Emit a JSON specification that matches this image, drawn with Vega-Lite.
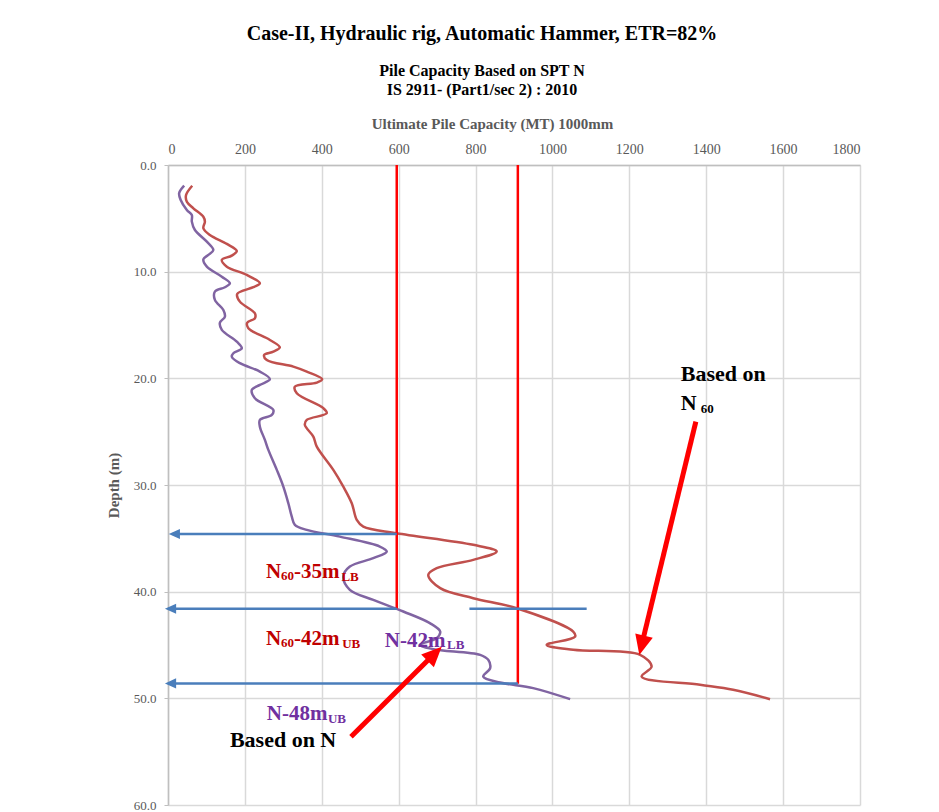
{
  "$schema": "https://vega.github.io/schema/vega-lite/v6.json",
  "width": 692,
  "height": 640,
  "autosize": {"type": "none"},
  "padding": {"left": 168, "top": 165, "right": 79, "bottom": 7},
  "background": "white",
  "config": {
    "font": "Liberation Serif",
    "view": {"stroke": null},
    "axis": {"gridColor": "#d9d9d9", "gridWidth": 1.5, "domainColor": "#bfbfbf", "domainWidth": 1.5, "labelColor": "#595959", "titleColor": "#595959", "labelFont": "Liberation Serif", "titleFont": "Liberation Serif"}
  },
  "title": {
    "text": "Case-II, Hydraulic  rig, Automatic Hammer, ETR=82%",
    "subtitle": ["Pile Capacity Based on SPT N", "IS 2911- (Part1/sec 2) : 2010"],
    "anchor": "middle",
    "dx": -32,
    "font": "Liberation Serif",
    "fontSize": 20,
    "fontWeight": "bold",
    "color": "black",
    "subtitleFont": "Liberation Serif",
    "subtitleFontSize": 16,
    "subtitleFontWeight": "bold",
    "subtitleColor": "black",
    "subtitleLineHeight": 19,
    "subtitlePadding": 19,
    "offset": 18
  },
  "datasets": {
    "curves": [
      {"series": "N60", "cap": 63, "depth": 1.94},
      {"series": "N60", "cap": 47, "depth": 2.81},
      {"series": "N60", "cap": 49, "depth": 3.44},
      {"series": "N60", "cap": 66, "depth": 4.06},
      {"series": "N60", "cap": 92, "depth": 4.85},
      {"series": "N60", "cap": 96, "depth": 5.31},
      {"series": "N60", "cap": 92, "depth": 5.93},
      {"series": "N60", "cap": 109, "depth": 6.56},
      {"series": "N60", "cap": 153, "depth": 7.4},
      {"series": "N60", "cap": 179, "depth": 8.06},
      {"series": "N60", "cap": 166, "depth": 8.5},
      {"series": "N60", "cap": 140, "depth": 8.9},
      {"series": "N60", "cap": 153, "depth": 9.53},
      {"series": "N60", "cap": 205, "depth": 10.31},
      {"series": "N60", "cap": 239, "depth": 11.09},
      {"series": "N60", "cap": 222, "depth": 11.46},
      {"series": "N60", "cap": 180, "depth": 12.09},
      {"series": "N60", "cap": 187, "depth": 12.81},
      {"series": "N60", "cap": 226, "depth": 13.9},
      {"series": "N60", "cap": 226, "depth": 14.37},
      {"series": "N60", "cap": 206, "depth": 14.78},
      {"series": "N60", "cap": 209, "depth": 15.3},
      {"series": "N60", "cap": 265, "depth": 16.4},
      {"series": "N60", "cap": 291, "depth": 17.09},
      {"series": "N60", "cap": 274, "depth": 17.5},
      {"series": "N60", "cap": 250, "depth": 17.81},
      {"series": "N60", "cap": 257, "depth": 18.28},
      {"series": "N60", "cap": 326, "depth": 18.9},
      {"series": "N60", "cap": 361, "depth": 19.37},
      {"series": "N60", "cap": 401, "depth": 20.08},
      {"series": "N60", "cap": 387, "depth": 20.4},
      {"series": "N60", "cap": 330, "depth": 20.78},
      {"series": "N60", "cap": 335, "depth": 21.4},
      {"series": "N60", "cap": 404, "depth": 22.8},
      {"series": "N60", "cap": 413, "depth": 23.27},
      {"series": "N60", "cap": 361, "depth": 23.9},
      {"series": "N60", "cap": 356, "depth": 24.37},
      {"series": "N60", "cap": 378, "depth": 25.46},
      {"series": "N60", "cap": 387, "depth": 26.4},
      {"series": "N60", "cap": 430, "depth": 28.58},
      {"series": "N60", "cap": 456, "depth": 30.15},
      {"series": "N60", "cap": 478, "depth": 31.71},
      {"series": "N60", "cap": 491, "depth": 33.27},
      {"series": "N60", "cap": 508, "depth": 33.9},
      {"series": "N60", "cap": 595, "depth": 34.52},
      {"series": "N60", "cap": 794, "depth": 35.61},
      {"series": "N60", "cap": 855, "depth": 36.24},
      {"series": "N60", "cap": 794, "depth": 37.02},
      {"series": "N60", "cap": 699, "depth": 37.8},
      {"series": "N60", "cap": 677, "depth": 38.43},
      {"series": "N60", "cap": 708, "depth": 39.67},
      {"series": "N60", "cap": 794, "depth": 40.61},
      {"series": "N60", "cap": 907, "depth": 41.55},
      {"series": "N60", "cap": 1054, "depth": 43.74},
      {"series": "N60", "cap": 1059, "depth": 44.21},
      {"series": "N60", "cap": 985, "depth": 44.99},
      {"series": "N60", "cap": 1054, "depth": 45.45},
      {"series": "N60", "cap": 1228, "depth": 45.92},
      {"series": "N60", "cap": 1258, "depth": 47.02},
      {"series": "N60", "cap": 1232, "depth": 47.96},
      {"series": "N60", "cap": 1384, "depth": 48.73},
      {"series": "N60", "cap": 1470, "depth": 49.2},
      {"series": "N60", "cap": 1566, "depth": 50.08},
      {"series": "N", "cap": 42, "depth": 1.94},
      {"series": "N", "cap": 29, "depth": 2.65},
      {"series": "N", "cap": 33, "depth": 3.28},
      {"series": "N", "cap": 49, "depth": 4.22},
      {"series": "N", "cap": 62, "depth": 4.69},
      {"series": "N", "cap": 62, "depth": 5.31},
      {"series": "N", "cap": 70, "depth": 6.09},
      {"series": "N", "cap": 101, "depth": 7.19},
      {"series": "N", "cap": 118, "depth": 7.97},
      {"series": "N", "cap": 105, "depth": 8.43},
      {"series": "N", "cap": 92, "depth": 8.84},
      {"series": "N", "cap": 101, "depth": 9.53},
      {"series": "N", "cap": 140, "depth": 10.47},
      {"series": "N", "cap": 161, "depth": 11.09},
      {"series": "N", "cap": 148, "depth": 11.46},
      {"series": "N", "cap": 122, "depth": 11.87},
      {"series": "N", "cap": 122, "depth": 12.65},
      {"series": "N", "cap": 144, "depth": 13.59},
      {"series": "N", "cap": 148, "depth": 14.22},
      {"series": "N", "cap": 135, "depth": 14.78},
      {"series": "N", "cap": 140, "depth": 15.46},
      {"series": "N", "cap": 179, "depth": 16.56},
      {"series": "N", "cap": 192, "depth": 17.18},
      {"series": "N", "cap": 170, "depth": 17.65},
      {"series": "N", "cap": 166, "depth": 17.97},
      {"series": "N", "cap": 187, "depth": 18.58},
      {"series": "N", "cap": 239, "depth": 19.37},
      {"series": "N", "cap": 265, "depth": 20.08},
      {"series": "N", "cap": 239, "depth": 20.62},
      {"series": "N", "cap": 218, "depth": 21.09},
      {"series": "N", "cap": 226, "depth": 21.87},
      {"series": "N", "cap": 274, "depth": 22.96},
      {"series": "N", "cap": 270, "depth": 23.43},
      {"series": "N", "cap": 239, "depth": 23.9},
      {"series": "N", "cap": 239, "depth": 24.53},
      {"series": "N", "cap": 252, "depth": 25.77},
      {"series": "N", "cap": 261, "depth": 26.71},
      {"series": "N", "cap": 283, "depth": 28.58},
      {"series": "N", "cap": 300, "depth": 30.15},
      {"series": "N", "cap": 313, "depth": 31.71},
      {"series": "N", "cap": 322, "depth": 32.96},
      {"series": "N", "cap": 330, "depth": 33.74},
      {"series": "N", "cap": 361, "depth": 34.21},
      {"series": "N", "cap": 447, "depth": 34.84},
      {"series": "N", "cap": 551, "depth": 35.77},
      {"series": "N", "cap": 569, "depth": 36.24},
      {"series": "N", "cap": 534, "depth": 36.86},
      {"series": "N", "cap": 473, "depth": 37.65},
      {"series": "N", "cap": 456, "depth": 38.58},
      {"series": "N", "cap": 473, "depth": 39.83},
      {"series": "N", "cap": 534, "depth": 40.77},
      {"series": "N", "cap": 612, "depth": 41.86},
      {"series": "N", "cap": 681, "depth": 42.95},
      {"series": "N", "cap": 708, "depth": 43.74},
      {"series": "N", "cap": 699, "depth": 44.36},
      {"series": "N", "cap": 655, "depth": 44.99},
      {"series": "N", "cap": 690, "depth": 45.39},
      {"series": "N", "cap": 812, "depth": 45.92},
      {"series": "N", "cap": 833, "depth": 46.39},
      {"series": "N", "cap": 838, "depth": 47.17},
      {"series": "N", "cap": 820, "depth": 47.96},
      {"series": "N", "cap": 864, "depth": 48.52},
      {"series": "N", "cap": 950, "depth": 49.04},
      {"series": "N", "cap": 1046, "depth": 50.08}
    ],
    "limits": [
      {"cap": 595, "top": 0, "bottom": 41.55},
      {"cap": 910, "top": 0, "bottom": 48.64}
    ],
    "bluelines": [
      {"id": "a35", "depth": 34.6, "from": 595, "to": 12},
      {"id": "a42", "depth": 41.6, "from": 595, "to": 2},
      {"id": "a48", "depth": 48.6, "from": 910, "to": 2},
      {"id": "c42", "depth": 41.6, "from": 784, "to": 1089}
    ],
    "blueheads": [
      {"id": "a35", "depth": 34.6, "cap": 2},
      {"id": "a42", "depth": 41.6, "cap": -8},
      {"id": "a48", "depth": 48.6, "cap": -8}
    ],
    "redarrows": [
      {"id": "N60", "x0": 1373, "d0": 24.06, "x1": 1232, "d1": 45.0, "tipx": 1226, "tipd": 45.94},
      {"id": "N", "x0": 476, "d0": 53.6, "x1": 693, "d1": 45.82, "tipx": 712, "tipd": 45.16}
    ],
    "labels": [
      {"t": "N", "cap": 255, "depth": 38.72, "g": "label N60"},
      {"t": "-35m", "cap": 328, "depth": 38.72, "g": "label N60"},
      {"t": "N", "cap": 255, "depth": 45.0, "g": "label N60"},
      {"t": "-42m", "cap": 328, "depth": 45.0, "g": "label N60"},
      {"t": "N-42m", "cap": 564, "depth": 45.16, "g": "label N"},
      {"t": "N-48m", "cap": 257, "depth": 52.03, "g": "label N"}
    ],
    "sublabels": [
      {"t": "60", "cap": 294, "depth": 38.95, "g": "label N60"},
      {"t": "LB", "cap": 451, "depth": 39.0, "g": "label N60"},
      {"t": "60", "cap": 294, "depth": 45.19, "g": "label N60"},
      {"t": "UB", "cap": 453, "depth": 45.25, "g": "label N60"},
      {"t": "LB", "cap": 726, "depth": 45.37, "g": "label N"},
      {"t": "UB", "cap": 416, "depth": 52.27, "g": "label N"},
      {"t": "60", "cap": 1386, "depth": 23.25, "g": "note"}
    ],
    "notes": [
      {"t": "Based on N", "cap": 161, "depth": 54.56},
      {"t": "Based on", "cap": 1334, "depth": 20.22},
      {"t": "N", "cap": 1334, "depth": 22.97}
    ]
  },
  "layer": [
    {
      "data": {"name": "curves"},
      "mark": {"type": "line", "interpolate": "catmull-rom", "strokeWidth": 2.5},
      "encoding": {
        "x": {"field": "cap", "type": "quantitative",
          "scale": {"domain": [0, 1800], "nice": false, "zero": false},
          "axis": {"orient": "top", "values": [0, 200, 400, 600, 800, 1000, 1200, 1400, 1600, 1800], "format": "d",
            "title": "Ultimate Pile Capacity (MT) 1000mm", "titleFontSize": 15, "titleFontWeight": "bold",
            "titlePadding": 11, "titleX": 324,
            "labelFontSize": 14, "labelPadding": 9, "ticks": false}},
        "y": {"field": "depth", "type": "quantitative",
          "scale": {"domain": [0, 60], "reverse": true, "nice": false, "zero": false},
          "axis": {"values": [0, 10, 20, 30, 40, 50, 60], "format": ".1f",
            "title": "Depth (m)", "titleFontSize": 15, "titleFontWeight": "bold", "titlePadding": 12,
            "labelFontSize": 13, "labelPadding": 8, "tickSize": 4, "tickColor": "#bfbfbf"}},
        "color": {"field": "series", "type": "nominal",
          "scale": {"domain": ["N60", "N", "label N60", "label N", "note"], "range": ["#c0504d", "#8064a2", "#c00000", "#7030a0", "#000000"]}, "legend": null},
        "order": {"field": "depth", "type": "quantitative"}
      }
    },
    {
      "data": {"name": "limits"},
      "mark": {"type": "rule", "color": "#ff0000", "strokeWidth": 2.5},
      "encoding": {
        "x": {"field": "cap", "type": "quantitative"},
        "y": {"field": "top", "type": "quantitative"},
        "y2": {"field": "bottom"}
      }
    },
    {
      "data": {"name": "bluelines"},
      "mark": {"type": "rule", "color": "#4a7ebb", "strokeWidth": 2.5},
      "encoding": {
        "x": {"field": "from", "type": "quantitative"},
        "x2": {"field": "to"},
        "y": {"field": "depth", "type": "quantitative"}
      }
    },
    {
      "data": {"name": "blueheads"},
      "mark": {"type": "point", "shape": "M0,0L-0.45,1L0.45,1Z", "filled": true, "color": "#4a7ebb", "opacity": 1, "size": 500, "angle": 270},
      "encoding": {
        "x": {"field": "cap", "type": "quantitative"},
        "y": {"field": "depth", "type": "quantitative"}
      }
    },
    {
      "data": {"name": "redarrows"},
      "mark": {"type": "rule", "color": "#ff0000", "strokeWidth": 5},
      "encoding": {
        "x": {"field": "x0", "type": "quantitative"},
        "y": {"field": "d0", "type": "quantitative"},
        "x2": {"field": "x1"},
        "y2": {"field": "d1"}
      }
    },
    {
      "data": {"name": "redarrows"},
      "transform": [{"filter": "datum.id === 'N60'"}],
      "mark": {"type": "point", "shape": "M0,0L-0.45,1L0.45,1Z", "filled": true, "color": "#ff0000", "opacity": 1, "size": 1600, "angle": 193.6},
      "encoding": {
        "x": {"field": "tipx", "type": "quantitative"},
        "y": {"field": "tipd", "type": "quantitative"}
      }
    },
    {
      "data": {"name": "redarrows"},
      "transform": [{"filter": "datum.id === 'N'"}],
      "mark": {"type": "point", "shape": "M0,0L-0.45,1L0.45,1Z", "filled": true, "color": "#ff0000", "opacity": 1, "size": 1600, "angle": 45.2},
      "encoding": {
        "x": {"field": "tipx", "type": "quantitative"},
        "y": {"field": "tipd", "type": "quantitative"}
      }
    },
    {
      "data": {"name": "labels"},
      "mark": {"type": "text", "font": "Liberation Serif", "fontSize": 21, "fontWeight": "bold", "align": "left", "baseline": "alphabetic"},
      "encoding": {
        "x": {"field": "cap", "type": "quantitative"},
        "y": {"field": "depth", "type": "quantitative"},
        "text": {"field": "t"},
        "color": {"field": "g", "type": "nominal", "legend": null}
      }
    },
    {
      "data": {"name": "sublabels"},
      "mark": {"type": "text", "font": "Liberation Serif", "fontSize": 13, "fontWeight": "bold", "align": "left", "baseline": "alphabetic"},
      "encoding": {
        "x": {"field": "cap", "type": "quantitative"},
        "y": {"field": "depth", "type": "quantitative"},
        "text": {"field": "t"},
        "color": {"field": "g", "type": "nominal", "legend": null}
      }
    },
    {
      "data": {"name": "notes"},
      "mark": {"type": "text", "font": "Liberation Serif", "fontSize": 22, "fontWeight": "bold", "align": "left", "baseline": "alphabetic", "color": "#000000"},
      "encoding": {
        "x": {"field": "cap", "type": "quantitative"},
        "y": {"field": "depth", "type": "quantitative"},
        "text": {"field": "t"}
      }
    }
  ]
}
